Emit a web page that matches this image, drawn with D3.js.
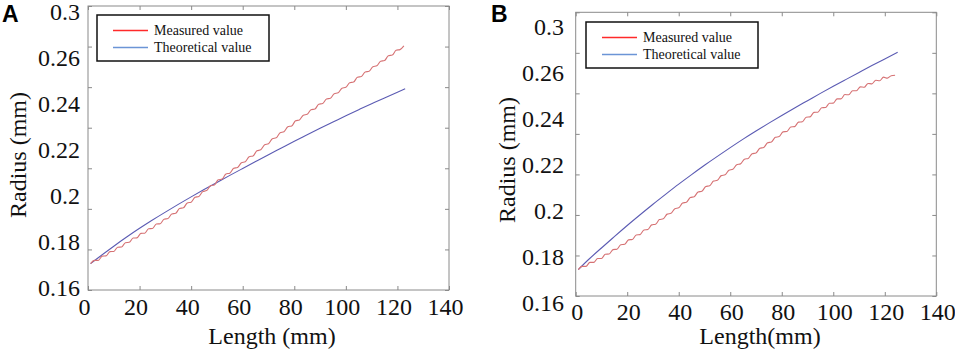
<!DOCTYPE html>
<html>
<head>
<meta charset="utf-8">
<script src="https://cdn.jsdelivr.net/npm/d3@7"></script>
<style>
  body { margin: 0; background: #fff; }
  svg { display: block; }
  text { font-family: "Liberation Serif", "Times New Roman", Times, "DejaVu Serif", serif; fill: #111; }
</style>
</head>
<body>
<svg class="chart" width="955" height="352"></svg>
<script>
// ---- data ----
var xTicks = [0, 20, 40, 60, 80, 100, 120, 140];
var yTicks = [0.16, 0.18, 0.20, 0.22, 0.24, 0.26, 0.28, 0.30];
// the figure prints these labels (0.28 is missing)
var yTickLabels = ["0.16", "0.18", "0.2", "0.22", "0.24", "0.26", "0.3"];
var seriesNames = ["Measured value", "Theoretical value"];

// sampling positions of the measured profile (mm)
var stepLength = [1,2.5,4,5.5,7,8.5,10,11.5,13,14.5,16,17.5,19,20.5,22,23.5,25,26.5,28,29.5,
  31,32.5,34,35.5,37,38.5,40,41.5,43,44.5,46,47.5,49,50.5,52,53.5,55,56.5,58,59.5,
  61,62.5,64,65.5,67,68.5,70,71.5,73,74.5,76,77.5,79,80.5,82,83.5,85,86.5,88,89.5,
  91,92.5,94,95.5,97,98.5,100,101.5,103,104.5,106,107.5,109,110.5,112,113.5,115,116.5,118,119.5,
  121,122.5,124];

var measuredA = [.1730,.1746,.1746,.1767,.1768,.1789,.1790,.1811,.1812,.1833,
  .1835,.1856,.1857,.1879,.1880,.1902,.1903,.1925,.1927,.1949,
  .1952,.1975,.1978,.2002,.2005,.2029,.2033,.2057,.2061,.2085,
  .2090,.2114,.2118,.2143,.2147,.2172,.2176,.2200,.2204,.2227,
  .2232,.2257,.2261,.2286,.2291,.2316,.2321,.2346,.2350,.2375,
  .2380,.2405,.2409,.2434,.2438,.2462,.2466,.2489,.2492,.2516,
  .2519,.2542,.2545,.2568,.2572,.2595,.2599,.2622,.2625,.2649,
  .2652,.2675,.2678,.2701,.2705,.2728,.2731,.2755,.2758,.2782,
  .2785,.2803];

var measuredB = [.1730,.1746,.1746,.1766,.1766,.1785,.1785,.1806,.1807,.1829,
  .1831,.1853,.1855,.1877,.1879,.1901,.1903,.1926,.1928,.1951,
  .1954,.1977,.1981,.2004,.2008,.2031,.2035,.2059,.2063,.2086,
  .2090,.2113,.2117,.2140,.2144,.2167,.2171,.2194,.2198,.2221,
  .2225,.2248,.2252,.2275,.2279,.2302,.2306,.2329,.2333,.2356,
  .2360,.2383,.2387,.2410,.2412,.2434,.2436,.2458,.2460,.2482,
  .2484,.2506,.2507,.2529,.2530,.2551,.2552,.2573,.2573,.2594,
  .2593,.2613,.2613,.2632,.2630,.2649,.2647,.2665,.2662,.2680,
  .2675,.2687,.2689];

var theoryLenA = [1,5,10,15,20,25,30,35,40,45,50,55,60,65,70,75,80,85,90,95,100,105,110,115,120,123];
var theoryA = [.1730,.1769,.1816,.1861,.1904,.1945,.1984,.2022,.2059,.2095,.2130,.2165,.2199,
  .2233,.2267,.2300,.2333,.2365,.2397,.2428,.2459,.2489,.2518,.2547,.2575,.2592];

var theoryLenB = [1,5,10,15,20,25,30,35,40,45,50,55,60,65,70,75,80,85,90,95,100,105,110,115,120,125];
var theoryB = [.1730,.1780,.1837,.1893,.1948,.2001,.2053,.2103,.2152,.2199,.2245,.2289,.2332,
  .2374,.2414,.2453,.2491,.2528,.2564,.2600,.2635,.2669,.2703,.2737,.2770,.2803];

var svg = d3.select(".chart");
svg.append("rect").attr("width", 955).attr("height", 352).attr("fill", "#fff");

function drawPanel(p) {
  var x = d3.scaleLinear().domain([0, 140]).range([p.left, p.right]),
      y = d3.scaleLinear().domain([0.16, 0.30]).range([p.bottom, p.top]),
      yLab = d3.scalePoint().domain(yTickLabels).range([p.labBottom, p.labTop]);

  var g = svg.append("g");

  // frame
  g.append("rect")
    .attr("x", p.left).attr("y", p.top)
    .attr("width", p.right - p.left).attr("height", p.bottom - p.top)
    .attr("fill", "none").attr("stroke", "#8a8a8a").attr("stroke-width", 1);

  // inward ticks on all four sides
  function ticks(axis, tx, ty) {
    var a = g.append("g").attr("transform", "translate(" + tx + "," + ty + ")").call(axis);
    a.select(".domain").remove();
    a.selectAll("text").remove();
    a.selectAll("line").attr("stroke", "#8a8a8a");
  }
  ticks(d3.axisBottom(x).tickValues(xTicks).tickSize(-4), 0, p.bottom);
  ticks(d3.axisTop(x).tickValues(xTicks).tickSize(-4), 0, p.top);
  ticks(d3.axisLeft(y).tickValues(yTicks).tickSize(-4), p.left, 0);
  ticks(d3.axisRight(y).tickValues(yTicks).tickSize(-4), p.right, 0);

  // x tick labels
  var xa = g.append("g")
    .attr("transform", "translate(0," + p.xLabBase + ")")
    .call(d3.axisBottom(x).tickValues(xTicks).tickSize(0).tickPadding(0));
  xa.attr("font-family", null).attr("font-size", null);
  xa.select(".domain").remove();
  xa.selectAll("text").attr("dy", 0).attr("dx", p.xLabShift)
    .style("font-size", "24px").attr("fill", "#111");

  // y tick labels (as printed)
  var ya = g.append("g")
    .attr("transform", "translate(" + p.yLabRight + ",0)")
    .call(d3.axisLeft(yLab).tickSize(0).tickPadding(0));
  ya.attr("font-family", null).attr("font-size", null);
  ya.select(".domain").remove();
  ya.selectAll("text").attr("dy", 0)
    .style("font-size", "24px").attr("fill", "#111");

  // axis titles
  g.append("text")
    .attr("x", p.xTitleX).attr("y", 344)
    .attr("text-anchor", "middle").style("font-size", "24px")
    .text(p.xTitle);
  g.append("text")
    .attr("transform", "translate(" + p.yTitleX + "," + p.yTitleY + ") rotate(-90)")
    .attr("text-anchor", "middle").style("font-size", "24px")
    .text("Radius (mm)");

  // panel letter
  g.append("text")
    .attr("x", p.letterX).attr("y", 22)
    .style("font-family", "'Liberation Sans', Arial, sans-serif")
    .style("font-weight", "bold").style("font-size", "23px")
    .style("fill", "#000")
    .text(p.letter);

  // lines
  var line = d3.line()
    .x(function(d) { return x(d[0]); })
    .y(function(d) { return y(d[1]); });

  g.append("path")
    .attr("d", line.curve(d3.curveNatural)(d3.zip(p.theoryLen, p.theory)))
    .attr("fill", "none").attr("stroke", "#5b5bb3").attr("stroke-width", 1.1);
  g.append("path")
    .attr("d", line.curve(d3.curveMonotoneX)(d3.zip(stepLength.slice(0, p.measured.length), p.measured)))
    .attr("fill", "none").attr("stroke", "#d67274").attr("stroke-width", 1.1);

  // legend
  var lg = g.append("g").attr("transform", "translate(" + p.legX + "," + p.legY + ")");
  lg.append("rect")
    .attr("width", 172).attr("height", 46)
    .attr("fill", "#fff").attr("stroke", "#111").attr("stroke-width", 1.5);
  var legColors = ["#ff2a2a", "#6b95d6"];
  seriesNames.forEach(function(name, i) {
    var yy = 15.5 + i * 17;
    lg.append("line")
      .attr("x1", 16).attr("x2", 51).attr("y1", yy).attr("y2", yy)
      .attr("stroke", legColors[i]).attr("stroke-width", 1.4);
    lg.append("text")
      .attr("x", 57).attr("y", yy + 4.5)
      .style("font-size", "14px")
      .text(name);
  });
}

drawPanel({
  letter: "A", letterX: 2,
  left: 88, right: 449, top: 6, bottom: 290,
  labTop: 19, labBottom: 295, yLabRight: 80,
  xLabBase: 315, xLabShift: -4,
  xTitle: "Length (mm)", xTitleX: 272,
  yTitleX: 26, yTitleY: 155,
  legX: 97, legY: 15,
  measured: measuredA, theory: theoryA, theoryLen: theoryLenA
});

drawPanel({
  letter: "B", letterX: 491,
  left: 575.7, right: 936.3, top: 12.3, bottom: 296,
  labTop: 34, labBottom: 310, yLabRight: 564,
  xLabBase: 320, xLabShift: 1,
  xTitle: "Length(mm)", xTitleX: 760,
  yTitleX: 515, yTitleY: 160,
  legX: 586, legY: 22,
  measured: measuredB, theory: theoryB, theoryLen: theoryLenB
});
</script>
</body>
</html>
